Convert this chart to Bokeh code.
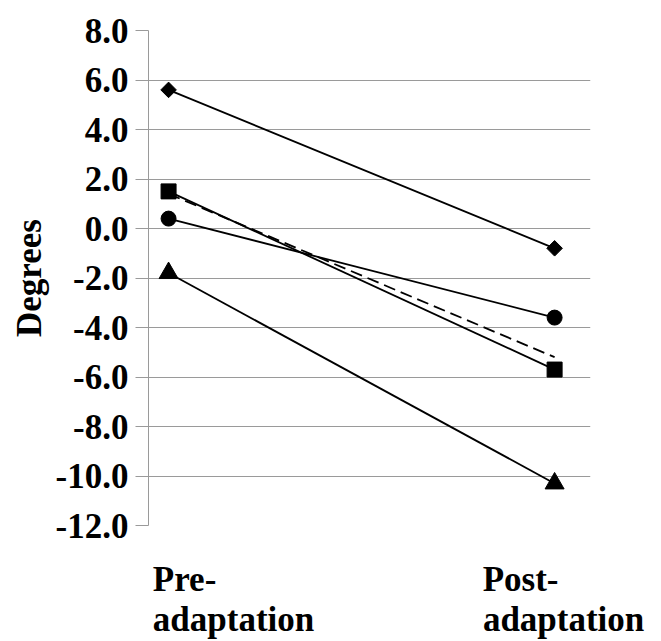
import numpy as np
from bokeh.plotting import figure
from bokeh.models import Range1d, FixedTicker, PrintfTickFormatter, LinearAxis
from bokeh.embed import file_html
from bokeh.resources import INLINE

# ---- data ----
stage_x = [0, 1]
diamond_vals = [5.6, -0.8]
square_vals = [1.5, -5.7]
circle_vals = [0.4, -3.6]
triangle_vals = [-1.8, -10.3]
mean_vals = [1.4, -5.2]
y_ticks = [-12, -10, -8, -6, -4, -2, 0, 2, 4, 6, 8]
label_line1 = ["Pre-", "Post-"]
label_line2 = ["adaptation", "adaptation"]

FONT = "Liberation Serif"
GRID = "#9a9a9a"
FS = "35px"

W, H = 661, 641
B_LEFT, B_RIGHT, B_TOP, B_BOTTOM = 148, 71, 30, 114
FRAME_W = W - B_LEFT - B_RIGHT
X0, X1 = -0.052, 1.093
ppu = FRAME_W / (X1 - X0)

p = figure(width=W, height=H, output_backend="svg", toolbar_location=None,
           x_range=Range1d(X0, X1), y_range=Range1d(-12, 8), x_axis_location=None,
           min_border_left=B_LEFT, min_border_right=B_RIGHT,
           min_border_top=B_TOP, min_border_bottom=B_BOTTOM)
p.outline_line_color = None
p.background_fill_color = "white"
p.border_fill_color = "white"
p.xgrid.visible = False

p.yaxis.ticker = FixedTicker(ticks=y_ticks)
p.yaxis.formatter = PrintfTickFormatter(format="%.1f")
p.yaxis.major_label_text_font = FONT
p.yaxis.major_label_text_font_style = "bold"
p.yaxis.major_label_text_font_size = FS
p.yaxis.major_label_text_color = "black"
p.yaxis.major_label_standoff = 7
p.yaxis.major_tick_out = 13
p.yaxis.major_tick_in = 0
p.yaxis.minor_tick_line_color = None
p.yaxis.major_tick_line_color = GRID
p.yaxis.axis_line_color = GRID
p.yaxis.axis_label = "Degrees"
p.yaxis.axis_label_text_font = FONT
p.yaxis.axis_label_text_font_style = "bold"
p.yaxis.axis_label_text_font_size = FS
p.yaxis.axis_label_text_color = "black"
p.yaxis.axis_label_standoff = 4

p.ygrid.ticker = FixedTicker(ticks=y_ticks)
p.ygrid.grid_line_color = GRID
p.ygrid.grid_line_width = 1

LW = 1.8
p.line(stage_x, mean_vals, line_color="black", line_width=LW, line_dash="12 6")
p.line(stage_x, diamond_vals, line_color="black", line_width=LW)
p.line(stage_x, square_vals, line_color="black", line_width=LW)
p.line(stage_x, circle_vals, line_color="black", line_width=LW)
p.line(stage_x, triangle_vals, line_color="black", line_width=LW)

p.scatter(stage_x, diamond_vals, marker="square", size=11, angle=np.pi / 4,
          fill_color="black", line_color="black")
p.scatter(stage_x, square_vals, marker="square", size=15, fill_color="black", line_color="black")
p.scatter(stage_x, circle_vals, marker="circle", size=15, fill_color="black", line_color="black")
p.scatter(stage_x, triangle_vals, marker="triangle", size=19, fill_color="black", line_color="black")

# ---- category labels: two stacked bottom axes; the labels are left-aligned in the
# reference, so each line is centred at (category + pixel shift) ----
line1_shift_px = [16, -34]
line2_shift_px = [65, 9]


def label_axis(texts, shifts, standoff):
    ticks = [x + s / ppu for x, s in zip(stage_x, shifts)]
    ax = LinearAxis(ticker=FixedTicker(ticks=ticks),
                    major_label_overrides={t: s for t, s in zip(ticks, texts)})
    ax.axis_line_color = None
    ax.major_tick_line_color = None
    ax.minor_tick_line_color = None
    ax.major_tick_out = 0
    ax.major_tick_in = 0
    ax.major_label_standoff = standoff
    ax.major_label_text_font = FONT
    ax.major_label_text_font_style = "bold"
    ax.major_label_text_font_size = FS
    ax.major_label_text_color = "black"
    return ax


p.add_layout(label_axis(label_line1, line1_shift_px, 34), "below")
p.add_layout(label_axis(label_line2, line2_shift_px, -2), "below")

open("out.html", "w").write(file_html(p, INLINE))
